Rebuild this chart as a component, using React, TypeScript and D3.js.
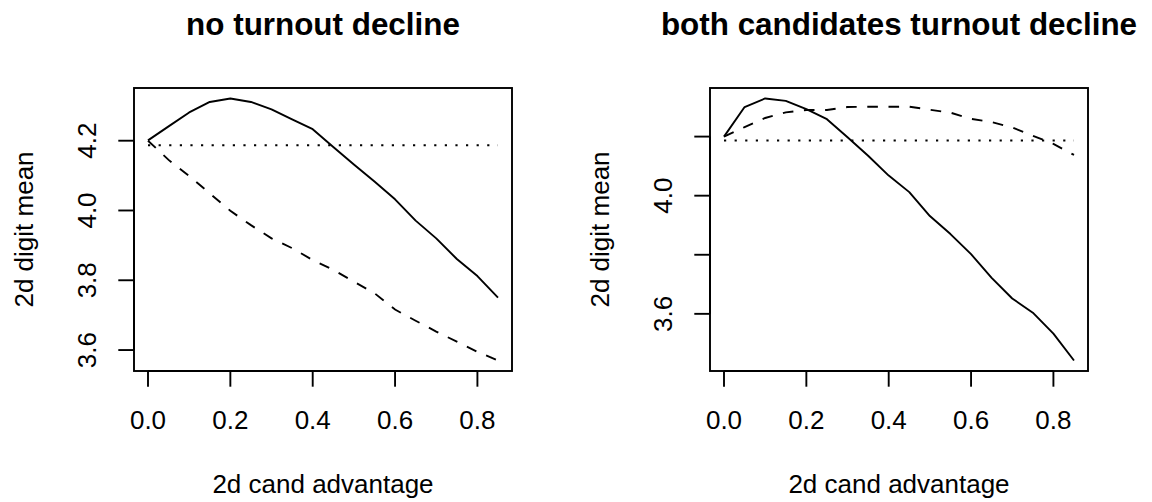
import React from "react";
import * as d3 from "d3";

// ---- data ----
const advantage = [0, 0.05, 0.1, 0.15, 0.2, 0.25, 0.3, 0.35, 0.4, 0.45, 0.5, 0.55, 0.6, 0.65, 0.7, 0.75, 0.8, 0.85];

const noDeclineSolid = [4.201, 4.241, 4.281, 4.311, 4.321, 4.311, 4.29, 4.261, 4.233, 4.182, 4.132, 4.083, 4.032, 3.971, 3.92, 3.861, 3.812, 3.75];
const noDeclineDashed = [4.2, 4.145, 4.099, 4.049, 3.999, 3.958, 3.92, 3.892, 3.858, 3.83, 3.796, 3.763, 3.716, 3.684, 3.653, 3.624, 3.595, 3.57];

const bothDeclineSolid = [4.2, 4.3, 4.329, 4.321, 4.293, 4.259, 4.198, 4.135, 4.068, 4.012, 3.931, 3.87, 3.802, 3.722, 3.652, 3.604, 3.533, 3.442];
const bothDeclineDashed = [4.2, 4.232, 4.263, 4.282, 4.29, 4.29, 4.3, 4.301, 4.301, 4.301, 4.291, 4.281, 4.26, 4.249, 4.231, 4.203, 4.175, 4.138];

const benfordMean = 4.187;

const xTicks = [0, 0.2, 0.4, 0.6, 0.8];
const leftYTicks = [3.6, 3.8, 4.0, 4.2];
const leftYLabelled = [3.6, 3.8, 4.0, 4.2];
const rightYTicks = [3.6, 3.8, 4.0, 4.2];
const rightYLabelled = [3.6, 4.0];

const titles = ["no turnout decline", "both candidates turnout decline"];
const xLabel = "2d cand advantage";
const yLabel = "2d digit mean";

// ---- styling ----
const FONT = "'Liberation Sans', Arial, Helvetica, sans-serif";
const LW = 1.9;
const FS = 26;
const TFS = 31.4;
const DASHED = "10.6,10.6";
const DOTTED = "2.2,8.4";

type PanelProps = {
  x0: number;
  x1: number;
  y0: number;
  y1: number;
  title: string;
  solid: number[];
  dashed: number[];
  yTicks: number[];
  yLabelled: number[];
};

function pad(ext: [number, number]): [number, number] {
  const r = ext[1] - ext[0];
  return [ext[0] - 0.04 * r, ext[1] + 0.04 * r];
}

function Panel({ x0, x1, y0, y1, title, solid, dashed, yTicks, yLabelled }: PanelProps) {
  const xExt = d3.extent(advantage) as [number, number];
  const allY = [...solid, ...dashed, benfordMean];
  const yExt = d3.extent(allY) as [number, number];
  const x = d3.scaleLinear().domain(pad(xExt)).range([x0, x1]);
  const y = d3.scaleLinear().domain(pad(yExt)).range([y1, y0]);

  const line = d3
    .line<number>()
    .x((_, i) => x(advantage[i]))
    .y((d) => y(d));

  const benford = advantage.map(() => benfordMean);
  const cx = (x0 + x1) / 2;
  const cy = (y0 + y1) / 2;
  const tick = 15.7;

  return (
    <g>
      <text x={cx} y={35} textAnchor="middle" fontFamily={FONT} fontWeight="bold" fontSize={TFS} fill="#000">
        {title}
      </text>

      <path d={line(solid) ?? ""} fill="none" stroke="#000" strokeWidth={LW} strokeLinejoin="round" />
      <path d={line(dashed) ?? ""} fill="none" stroke="#000" strokeWidth={LW} strokeDasharray={DASHED} />
      <path d={line(benford) ?? ""} fill="none" stroke="#000" strokeWidth={LW} strokeDasharray={DOTTED} />

      <rect x={x0} y={y0} width={x1 - x0} height={y1 - y0} fill="none" stroke="#000" strokeWidth={LW} />

      {/* x axis */}
      <line x1={x(xTicks[0])} x2={x(xTicks[xTicks.length - 1])} y1={y1} y2={y1} stroke="#000" strokeWidth={LW} />
      {xTicks.map((t) => (
        <g key={"xt" + t}>
          <line x1={x(t)} x2={x(t)} y1={y1} y2={y1 + tick} stroke="#000" strokeWidth={LW} />
          <text x={x(t)} y={y1 + 58} textAnchor="middle" fontFamily={FONT} fontSize={FS} fill="#000">
            {t.toFixed(1)}
          </text>
        </g>
      ))}
      <text x={cx} y={y1 + 121.5} textAnchor="middle" fontFamily={FONT} fontSize={FS} fill="#000">
        {xLabel}
      </text>

      {/* y axis */}
      <line x1={x0} x2={x0} y1={y(yTicks[0])} y2={y(yTicks[yTicks.length - 1])} stroke="#000" strokeWidth={LW} />
      {yTicks.map((t) => (
        <g key={"yt" + t}>
          <line x1={x0} x2={x0 - tick} y1={y(t)} y2={y(t)} stroke="#000" strokeWidth={LW} />
          {yLabelled.includes(t) && (
            <text
              transform={`translate(${x0 - 38.5},${y(t)}) rotate(-90)`}
              textAnchor="middle"
              fontFamily={FONT}
              fontSize={FS}
              fill="#000"
            >
              {t.toFixed(1)}
            </text>
          )}
        </g>
      ))}
      <text
        transform={`translate(${x0 - 101},${cy}) rotate(-90)`}
        textAnchor="middle"
        fontFamily={FONT}
        fontSize={FS}
        fill="#000"
      >
        {yLabel}
      </text>
    </g>
  );
}

export default function App() {
  return (
    <svg
      width={1152}
      height={502}
      viewBox="0 0 1152 502"
      style={{ position: "absolute", left: 0, top: 0, background: "#fff" }}
    >
      <rect x={0} y={0} width={1152} height={502} fill="#fff" />
      <Panel
        x0={134}
        x1={512}
        y0={88}
        y1={371}
        title={titles[0]}
        solid={noDeclineSolid}
        dashed={noDeclineDashed}
        yTicks={leftYTicks}
        yLabelled={leftYLabelled}
      />
      <Panel
        x0={710}
        x1={1088}
        y0={88}
        y1={371}
        title={titles[1]}
        solid={bothDeclineSolid}
        dashed={bothDeclineDashed}
        yTicks={rightYTicks}
        yLabelled={rightYLabelled}
      />
    </svg>
  );
}
